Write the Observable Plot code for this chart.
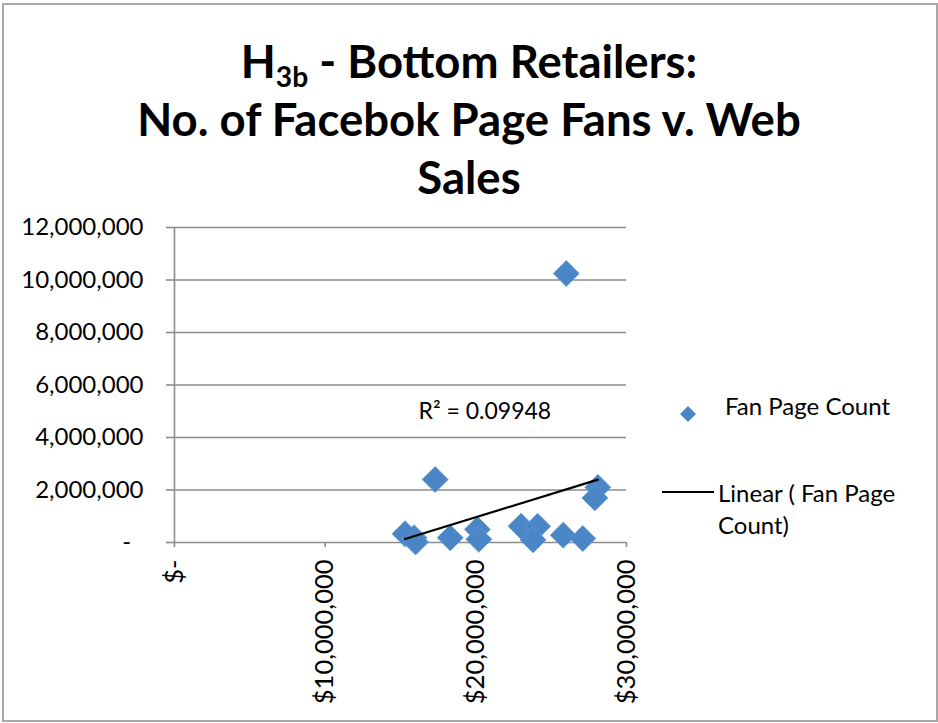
<!DOCTYPE html>
<html>
<head>
<meta charset="utf-8">
<script src="https://cdn.jsdelivr.net/npm/d3@7"></script>
<script src="https://cdn.jsdelivr.net/npm/@observablehq/plot@0.6"></script>
<style>
  html, body { margin: 0; padding: 0; background: #fff; }
  #wrap { position: relative; width: 938px; height: 723px; overflow: hidden; font-family: Lato, "Open Sans", sans-serif; color: #000; }
  #border { position: absolute; left: 2px; top: 3px; width: 932px; height: 715px; border: 2px solid #a8a8a8; box-sizing: content-box; }
  #title { position: absolute; left: 0; width: 938px; top: 32px; text-align: center; font-weight: 700; font-size: 45.5px; line-height: 58px; }
  #title sub { font-size: 0.62em; line-height: 0; vertical-align: -0.32em; }
  #chart { position: absolute; left: 0; top: 0; }
  .leg { position: absolute; font-size: 24px; line-height: 32px; }
</style>
</head>
<body>
<div id="wrap">
  <div id="border"></div>
  <div id="chart"></div>
  <div id="title">H<sub>3b</sub> - Bottom Retailers:<br>No. of Facebok Page Fans v. Web<br>Sales</div>
  <div class="leg" style="left:676px; top:396px;"><svg width="24" height="24" style="vertical-align:middle"><path d="M12,3 L20,11 L12,19 L4,11 Z" fill="#4a85c6"/></svg></div>
  <div class="leg" style="left:725px; top:390px;">Fan Page Count</div>
  <div class="leg" style="left:662px; top:491px; width:52px; height:0; border-top:2px solid #000;"></div>
  <div class="leg" style="left:718px; top:477px; width:210px;">Linear ( Fan Page<br>Count)</div>
</div>
<script>
// Web sales ($) of bottom retailers
const webSales = [15.3e6, 15.9e6, 16.0e6, 17.3e6, 18.3e6, 20.1e6, 20.2e6, 23.0e6, 24.1e6, 23.8e6, 25.8e6, 26.0e6, 27.1e6, 28.1e6, 27.9e6];
// Facebook fan page counts
const fanCounts = [330000, 180000, 20000, 2400000, 180000, 500000, 120000, 620000, 620000, 100000, 280000, 10250000, 150000, 2100000, 1700000];
const yTicks = [0, 2e6, 4e6, 6e6, 8e6, 10e6, 12e6];
const xTicks = [0, 10e6, 20e6, 30e6];
const r2Label = ["R² = 0.09948"];
const r2Pos = [20.6e6, 5.0e6];

const data = webSales.map((s, i) => ({sales: s, fans: fanCounts[i]}));
const fmtY = d => d === 0 ? "-\u00A0\u00A0" : d3.format(",")(d);
const fmtX = d => d === 0 ? "$-" : "$" + d3.format(",")(d);
const grid = "#8c8c8c";

const chart = Plot.plot({
  width: 938,
  height: 723,
  marginLeft: 174,
  marginRight: 312,
  marginTop: 227,
  marginBottom: 181,
  x: {domain: [0, 30e6]},
  y: {domain: [0, 12e6]},
  style: {fontFamily: "Lato, 'Open Sans', sans-serif", fontSize: "24px", color: "#000", background: "transparent", overflow: "visible"},
  marks: [
    Plot.ruleY(yTicks, {stroke: grid, strokeWidth: 1.6}),
    Plot.ruleX([0], {stroke: grid, strokeWidth: 1.6}),
    Plot.axisY({ticks: yTicks, tickFormat: fmtY, tickSize: 8, tickPadding: 23, fontSize: 24, stroke: grid, strokeWidth: 1.6, strokeOpacity: 1, label: null}),
    Plot.axisX({ticks: xTicks, tickFormat: fmtX, tickSize: 5, tickPadding: 12, fontSize: 25.5, tickRotate: -90, stroke: grid, strokeWidth: 1.6, strokeOpacity: 1, label: null}),
    Plot.dot(data, {x: "sales", y: "fans", symbol: "diamond2", r: 11.7, fill: "#4a85c6", stroke: "#5f98d6", strokeWidth: 0.8, style: "filter: drop-shadow(0px 2px 2px rgba(0,0,0,0.35))"}),
    Plot.linearRegressionY(data, {x: "sales", y: "fans", stroke: "#000", strokeWidth: 2.2, ci: 0}),
    Plot.text(r2Label, {x: () => r2Pos[0], y: () => r2Pos[1], text: d => d, fontSize: 23})
  ]
});
document.getElementById("chart").appendChild(chart);
</script>
</body>
</html>
